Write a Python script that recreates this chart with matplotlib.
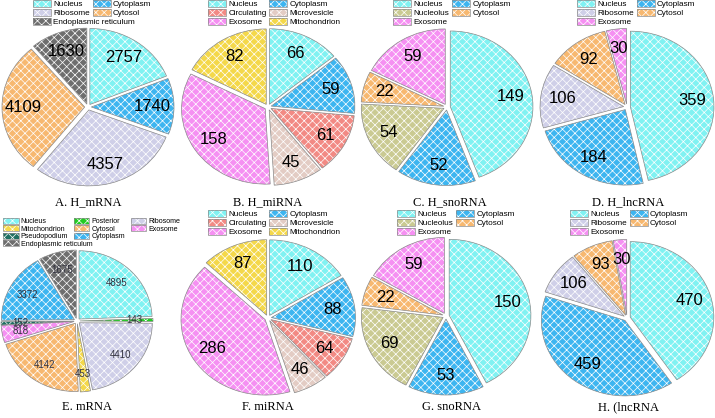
import matplotlib
matplotlib.use('Agg')
import matplotlib.pyplot as plt
from matplotlib.patches import Patch

plt.rcParams['font.family'] = ['Liberation Sans', 'DejaVu Sans']
plt.rcParams['hatch.linewidth'] = 0.5

W, H = 715, 418
HATCH = 'xxxx'
EDGE = '#8a8a8a'
EXPL = 0.04

COLORS = {
    'Nucleus': '#80F2F2',
    'Cytoplasm': '#3DB5F0',
    'Ribosome': '#CFCFE8',
    'Cytosol': '#F7B870',
    'Endoplasmic reticulum': '#6E6E6E',
    'Circulating': '#F28A84',
    'Microvesicle': '#E3CCC4',
    'Exosome': '#F590F2',
    'Mitochondrion': '#F4D84A',
    'Nucleolus': '#CACA92',
    'Posterior': '#22CC22',
    'Pseudopodium': '#1F6F62',
}

# --- data (clockwise from 12 o'clock) ---
a_names = ['Nucleus', 'Cytoplasm', 'Ribosome', 'Cytosol', 'Endoplasmic reticulum']
a_values = [2757, 1740, 4357, 4109, 1630]

b_names = ['Nucleus', 'Cytoplasm', 'Circulating', 'Microvesicle', 'Exosome', 'Mitochondrion']
b_values = [66, 59, 61, 45, 158, 82]

c_names = ['Nucleus', 'Cytoplasm', 'Nucleolus', 'Cytosol', 'Exosome']
c_values = [149, 52, 54, 22, 59]

d_names = ['Nucleus', 'Cytoplasm', 'Ribosome', 'Cytosol', 'Exosome']
d_values = [359, 184, 106, 92, 30]

e_names = ['Nucleus', 'Posterior', 'Ribosome', 'Mitochondrion', 'Cytosol',
           'Exosome', 'Pseudopodium', 'Cytoplasm', 'Endoplasmic reticulum']
e_values = [4895, 143, 4410, 453, 4142, 818, 152, 3372, 1675]

f_names = ['Nucleus', 'Cytoplasm', 'Circulating', 'Microvesicle', 'Exosome', 'Mitochondrion']
f_values = [110, 88, 64, 46, 286, 87]

g_names = ['Nucleus', 'Cytoplasm', 'Nucleolus', 'Cytosol', 'Exosome']
g_values = [150, 53, 69, 22, 59]

h_names = ['Nucleus', 'Cytoplasm', 'Ribosome', 'Cytosol', 'Exosome']
h_values = [470, 459, 106, 93, 30]

# legend rows as they read on the page (the long ER entry is drawn on its own line)
leg_a = [['Nucleus', 'Cytoplasm'], ['Ribosome', 'Cytosol']]
leg_b = [['Nucleus', 'Cytoplasm'], ['Circulating', 'Microvesicle'], ['Exosome', 'Mitochondrion']]
leg_c = [['Nucleus', 'Cytoplasm'], ['Nucleolus', 'Cytosol'], ['Exosome']]
leg_d = [['Nucleus', 'Cytoplasm'], ['Ribosome', 'Cytosol'], ['Exosome']]
leg_e = [['Nucleus', 'Posterior', 'Ribosome'], ['Mitochondrion', 'Cytosol', 'Exosome'],
         ['Pseudopodium', 'Cytoplasm']]
leg_er = [['Endoplasmic reticulum']]

titles = ['A. H_mRNA', 'B. H_miRNA', 'C. H_snoRNA', 'D. H_lncRNA',
          'E. mRNA', 'F. miRNA', 'G. snoRNA', 'H. (lncRNA']


def legend_entries(rows, ncol):
    # matplotlib fills the legend column by column, so transpose and pad
    handles, labels = [], []
    for c in range(ncol):
        for row in rows:
            if c < len(row):
                name = row[c]
                fill = Patch(facecolor=COLORS[name], edgecolor='white', lw=0, hatch=HATCH)
                rim = Patch(facecolor='none', edgecolor=EDGE, lw=0.5)
                handles.append((fill, rim))
                labels.append(name)
            else:
                handles.append(Patch(facecolor='none', edgecolor='none'))
                labels.append('')
    return handles, labels


def add_legend(fig, rows, ncol, x0, y0, fs, colsp, lsp, extra=None):
    hs, ls = legend_entries(rows, ncol)
    kw = dict(loc='upper left', frameon=False, fontsize=fs, borderpad=0, borderaxespad=0,
              handlelength=2.2, handleheight=0.9, handletextpad=0.3,
              labelspacing=lsp, columnspacing=colsp)
    leg = fig.legend(hs, ls, ncol=ncol, bbox_to_anchor=(x0 / W, 1 - y0 / H), **kw)
    if extra:
        # put the long entry right under the grid, without widening column 1
        fig.canvas.draw()
        bottom = leg.get_window_extent().y0 - lsp * fs * 100 / 72
        hs2, ls2 = legend_entries(extra, 1)
        fig.legend(hs2, ls2, ncol=1, bbox_to_anchor=(x0 / W, bottom / H), **kw)
    return leg


def draw_pie(fig, names, values, cx, cy, w, h, fs, txtcolor='black'):
    ax = fig.add_axes([(cx - w / 2) / W, 1 - (cy + h / 2) / H, w / W, h / H])
    cols = [COLORS[n] for n in names]
    explode = [EXPL] * len(values)
    it = iter(values)
    _, texts, autotexts = ax.pie(values, colors=cols, startangle=90, counterclock=False,
                                 explode=explode, autopct=lambda p: str(next(it)),
                                 pctdistance=0.74,
                                 wedgeprops=dict(edgecolor='white', linewidth=0, hatch=HATCH),
                                 textprops=dict(fontsize=fs, color=txtcolor))
    # grey outline on top of the white-hatched wedges
    ax.pie(values, colors=['none'] * len(values), startangle=90, counterclock=False,
           explode=explode, wedgeprops=dict(edgecolor=EDGE, linewidth=0.5))
    for t in autotexts:
        t.set_zorder(5)
    ax.set_aspect('auto')
    lim = 1 + EXPL
    ax.set_xlim(-lim, lim)
    ax.set_ylim(-lim, lim)
    return ax


fig = plt.figure(figsize=(W / 100, H / 100), dpi=100)

# top row
draw_pie(fig, a_names, a_values, 88, 107, 172, 158, 12)
draw_pie(fig, b_names, b_values, 268, 107, 174, 157, 12)
draw_pie(fig, c_names, c_values, 447, 107, 172, 157, 12)
draw_pie(fig, d_names, d_values, 627, 107, 174, 157, 12)
# bottom row
draw_pie(fig, e_names, e_values, 77, 321, 152, 142, 7, '#333340')
draw_pie(fig, f_names, f_values, 268, 318, 175, 157, 12)
draw_pie(fig, g_names, g_values, 446, 316, 170, 158, 12)
draw_pie(fig, h_names, h_values, 627, 318, 174, 157, 12)

TOP_FS = 5.9
add_legend(fig, leg_a, 2, 33, 0, TOP_FS, 0.3, 0.08, extra=leg_er)
add_legend(fig, leg_b, 2, 208, 0, TOP_FS, 0.3, 0.08)
add_legend(fig, leg_c, 2, 393, 0, TOP_FS, 0.3, 0.08)
add_legend(fig, leg_d, 2, 577, 0, TOP_FS, 0.3, 0.08)
add_legend(fig, leg_e, 3, 3, 218, 5.1, 0.8, 0.0, extra=leg_er)
add_legend(fig, leg_b, 2, 208, 210, TOP_FS, 0.3, 0.08)
add_legend(fig, leg_c, 2, 397, 210, TOP_FS, 0.3, 0.08)
add_legend(fig, leg_d, 2, 570, 210, TOP_FS, 0.3, 0.08)

title_pos = [(88, 202), (268, 202), (450, 202), (628, 202),
             (87, 407), (268, 407), (452, 407), (628, 407)]
for t, (x, y) in zip(titles, title_pos):
    fig.text(x / W, 1 - y / H, t, ha='center', va='center',
             family='Liberation Serif', fontsize=9)

fig.savefig('out.png', dpi=100)
